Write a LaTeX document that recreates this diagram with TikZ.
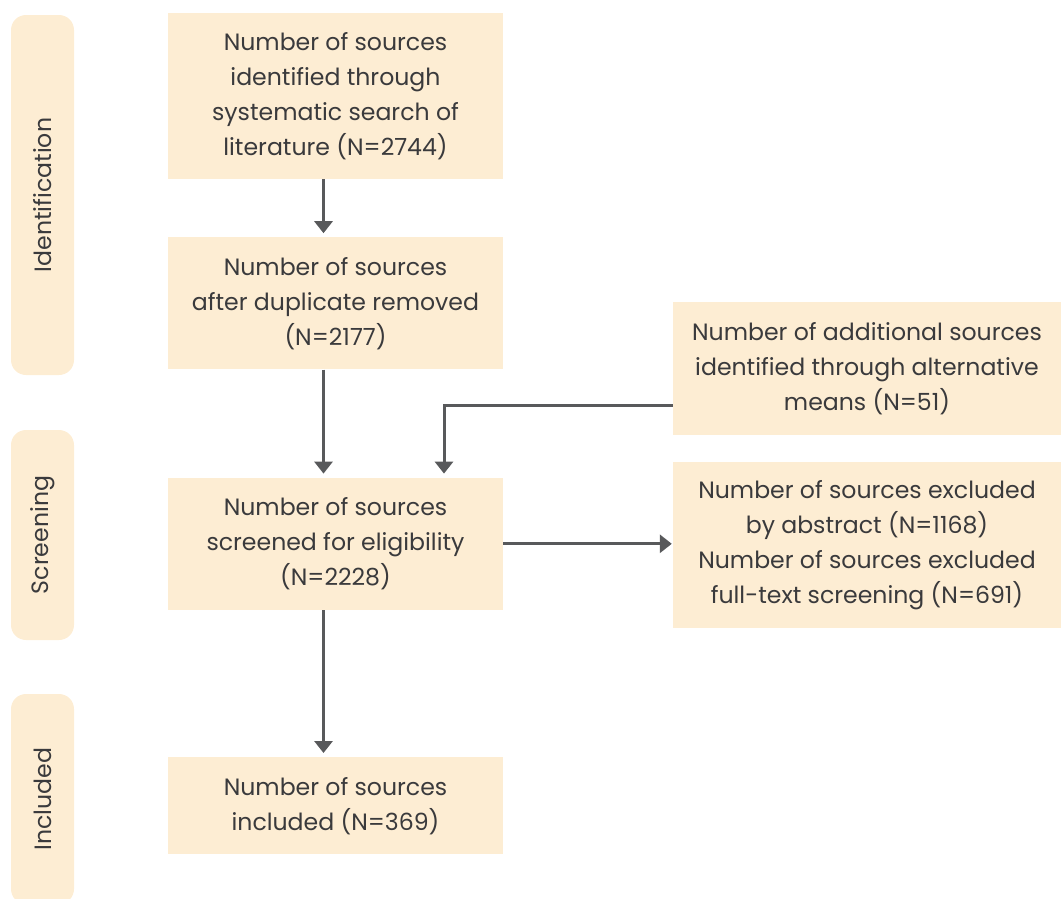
\documentclass[tikz,border=0pt]{standalone}
\usepackage{fontspec}
\setmainfont{Poppins}
\usepackage{xcolor}
\usepackage{tikz}
\usetikzlibrary{arrows.meta,positioning,calc}
\definecolor{ink}{HTML}{3A3A3C}
\definecolor{peach}{HTML}{FDEDD3}
\definecolor{arrowgray}{HTML}{58595B}
\tikzset{
  >={Triangle[length=12pt,width=18pt]},
  box/.style={fill=peach,text=ink,align=center,inner sep=0pt,minimum width=335pt,font=\fontsize{23.6}{35}\selectfont},
  sidebox/.style={box,minimum width=388pt},
  stage/.style={fill=peach,text=ink,rounded corners=15pt,rotate=90,inner sep=0pt,minimum height=63pt,font=\fontsize{23.6}{28}\selectfont},
  flow/.style={->,line width=3pt,color=arrowgray,shorten >=4pt},
}
\begin{document}
\begin{tikzpicture}[x=1pt,y=-1pt]
  \useasboundingbox (0,0) rectangle (1061,898);
  % phase labels
  \node[stage,minimum width=360pt] (ident) at (42.5,195) {Identification};
  \node[stage,minimum width=210pt] (screen) at (42.5,535) {Screening};
  \node[stage,minimum width=210pt] (incl) at (42.5,799) {Included};
  % main column
  \node[box,minimum height=166pt] (found) at (335.5,96) {Number of sources\\identified through\\systematic search of\\literature (N=2744)};
  \node[box,minimum height=132pt,below=58pt of found] (dedup) {Number of sources\\after duplicate removed\\(N=2177)};
  \node[box,minimum height=132pt,below=108pt of dedup] (screened) {Number of sources\\screened for eligibility\\(N=2228)};
  \node[box,minimum height=97pt,below=147pt of screened] (included) {Number of sources\\included (N=369)};
  % side column
  \node[sidebox,minimum height=133pt] (extra) at (867,368.5) {Number of additional sources\\identified through alternative\\means (N=51)};
  \node[sidebox,minimum height=166pt] (excluded) at (867,545) {Number of sources excluded\\by abstract (N=1168)\\Number of sources excluded\\full-text screening (N=691)};
  % arrows
  \draw[flow] ([xshift=-12pt]found.south) -- ([xshift=-12pt]dedup.north);
  \draw[flow] ([xshift=-12pt]dedup.south) -- ([xshift=-12pt]screened.north);
  \draw[flow] ([yshift=-36.5pt]extra.west) -| ([xshift=108.5pt]screened.north);
  \draw[flow,shorten >=1pt] (screened.east) -- (screened.east -| excluded.west);
  \draw[flow] ([xshift=-12pt]screened.south) -- ([xshift=-12pt]included.north);
\end{tikzpicture}
\end{document}
